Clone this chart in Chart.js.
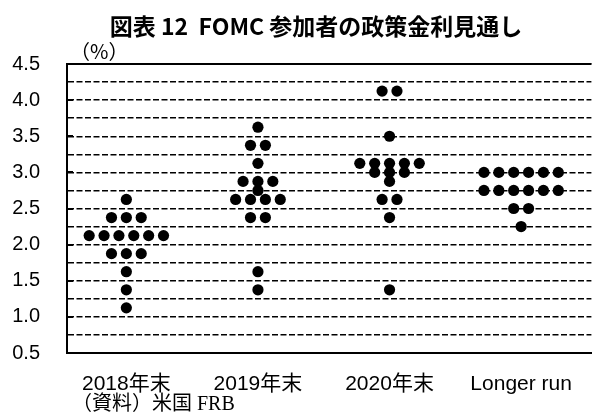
<!DOCTYPE html>
<html lang="ja">
<head>
<meta charset="UTF-8">
<title>FOMC 参加者の政策金利見通し</title>
<script src="https://cdn.jsdelivr.net/npm/chart.js@4.4.0/dist/chart.umd.min.js"></script>
<style>
  html, body { margin: 0; padding: 0; background: #fff; }
</style>
</head>
<body>
<canvas id="dotChart" width="597" height="414"></canvas>
<script>
// one entry per participant (mid point of the target range, %)
const categories = ['2018年末', '2019年末', '2020年末', 'Longer run'];
const dots2018 = [2.625, 2.375, 2.375, 2.375, 2.125, 2.125, 2.125, 2.125, 2.125, 2.125, 1.875, 1.875, 1.875, 1.625, 1.375, 1.125];
const dots2019 = [3.625, 3.375, 3.375, 3.125, 2.875, 2.875, 2.875, 2.75, 2.625, 2.625, 2.625, 2.625, 2.375, 2.375, 1.625, 1.375];
const dots2020 = [4.125, 4.125, 3.5, 3.125, 3.125, 3.125, 3.125, 3.125, 3.0, 3.0, 3.0, 2.875, 2.625, 2.625, 2.375, 1.375];
const dotsLonger = [3.0, 3.0, 3.0, 3.0, 3.0, 3.0, 2.75, 2.75, 2.75, 2.75, 2.75, 2.75, 2.5, 2.5, 2.25];
const yTicks = [0.5, 1.0, 1.5, 2.0, 2.5, 3.0, 3.5, 4.0, 4.5];

const titleText = '図表 12  FOMC 参加者の政策金利見通し';
const unitText = '（%）';
const sourceText = '（資料）米国 FRB';

// dots sharing a value are laid side by side, centred on the category
const dotStep = 0.113;
function spread(values, idx) {
  const rows = {};
  values.forEach(v => { (rows[v] = rows[v] || []).push(v); });
  const pts = [];
  Object.keys(rows).forEach(k => {
    const n = rows[k].length;
    rows[k].forEach((v, j) => pts.push({ x: idx + (j - (n - 1) / 2) * dotStep, y: v }));
  });
  return pts;
}

const allDots = [dots2018, dots2019, dots2020, dotsLonger];
const points = [];
allDots.forEach((d, i) => points.push(...spread(d, i)));

const extras = {
  id: 'extras',
  afterDraw(chart) {
    const { ctx, chartArea: a, scales: { y } } = chart;
    ctx.save();
    ctx.strokeStyle = '#000';
    ctx.lineWidth = 2;
    ctx.beginPath();
    ctx.moveTo(a.left, a.top);
    ctx.lineTo(a.right, a.top);
    yTicks.forEach(v => {
      const py = Math.round(y.getPixelForValue(v));
      ctx.moveTo(a.left, py);
      ctx.lineTo(a.left + 6, py);
    });
    ctx.stroke();

    ctx.fillStyle = '#000';
    ctx.textBaseline = 'middle';
    ctx.textAlign = 'center';
    ctx.font = 'bold 23px "Noto Sans CJK JP"';
    ctx.fillText(titleText, 316, 26);
    ctx.textAlign = 'left';
    ctx.font = '20px "Noto Sans CJK JP"';
    ctx.fillText(unitText, 70, 51);
    ctx.font = '20px "Liberation Serif", "Noto Sans CJK JP"';
    ctx.fillText(sourceText, 72, 405);
    ctx.restore();
  }
};

Chart.defaults.color = '#000';
Chart.defaults.font.family = '"Liberation Sans", "Noto Sans CJK JP"';

new Chart(document.getElementById('dotChart'), {
  type: 'scatter',
  data: {
    datasets: [{
      data: points,
      pointRadius: 5.6,
      pointHoverRadius: 5.6,
      pointBackgroundColor: '#000',
      pointBorderWidth: 0
    }]
  },
  options: {
    responsive: false,
    animation: false,
    devicePixelRatio: 1,
    layout: { padding: { top: 64, left: 0, right: 0, bottom: 0 } },
    plugins: { legend: { display: false }, tooltip: { enabled: false } },
    scales: {
      x: {
        type: 'linear',
        min: -0.451,
        max: 3.534,
        afterBuildTicks: s => { s.ticks = categories.map((c, i) => ({ value: i })); },
        afterFit: s => { s.height = 61; s.paddingLeft = 0; s.paddingRight = 0; },
        grid: { display: false, drawTicks: false },
        border: { display: true, color: '#000', width: 2 },
        ticks: {
          padding: 19,
          font: { size: 21 },
          maxRotation: 0,
          callback: v => categories[v]
        }
      },
      y: {
        min: 0.5,
        max: 4.5,
        afterFit: s => { s.width = 67; s.paddingTop = 0; s.paddingBottom = 0; },
        grid: { color: '#000', lineWidth: 1.5, drawTicks: false },
        border: { display: true, color: '#000', width: 2, dash: [6, 2.5] },
        ticks: {
          stepSize: 0.25,
          padding: 27,
          font: { size: 20 },
          autoSkip: false,
          callback: v => yTicks.includes(v) ? v.toFixed(1) : ''
        }
      }
    }
  },
  plugins: [extras]
});
</script>
</body>
</html>
